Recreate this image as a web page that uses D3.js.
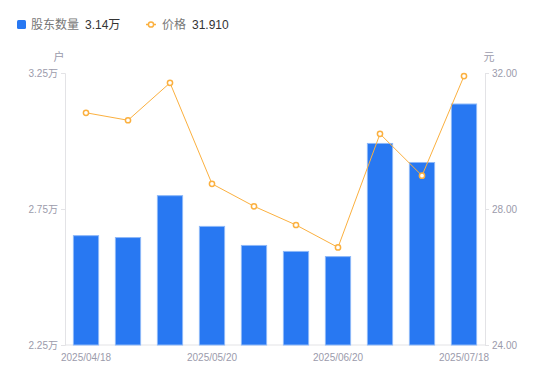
<!DOCTYPE html>
<html>
<head>
<meta charset="utf-8">
<script src="https://cdn.jsdelivr.net/npm/d3@7"></script>
<style>
  html, body { margin: 0; padding: 0; background: #fff; }
  svg { display: block; font-family: "Liberation Sans", Arial, "Noto Sans CJK SC", sans-serif; }
</style>
</head>
<body>
<svg id="chart" width="550" height="381"></svg>
<script>
const dates = ["2025/04/18","2025/04/30","2025/05/10","2025/05/20","2025/05/31","2025/06/10","2025/06/20","2025/06/30","2025/07/10","2025/07/18"];
const holders = [2.652, 2.645, 2.799, 2.686, 2.616, 2.594, 2.575, 2.991, 2.921, 3.136]; // 万户
const prices = [30.83, 30.61, 31.71, 28.74, 28.08, 27.53, 26.87, 30.21, 28.98, 31.91];
const leftTicks = [2.25, 2.75, 3.25];
const rightTicks = [24, 28, 32];
const shownDates = ["2025/04/18","2025/05/20","2025/06/20","2025/07/18"];

const svg = d3.select("#chart");
const m = {left: 65, right: 485, top: 73, bottom: 345};
const blue = "#2878f2", orange = "#fbb03f", axisCol = "#e3e3e6", tickText = "#9b9bab";

const x = d3.scaleBand().domain(dates).range([m.left, m.right]).paddingInner(0.4).paddingOuter(0.2);
const yL = d3.scaleLinear().domain([2.25, 3.25]).range([m.bottom, m.top]);
const yR = d3.scaleLinear().domain([24, 32]).range([m.bottom, m.top]);

// axes
const axL = d3.axisLeft(yL).tickValues(leftTicks).tickSize(4).tickPadding(3).tickFormat(d => d3.format(".2f")(d) + "万");
const axR = d3.axisRight(yR).tickValues(rightTicks).tickSize(4).tickPadding(3).tickFormat(d3.format(".2f"));
const axB = d3.axisBottom(x).tickValues(shownDates).tickSize(0).tickPadding(9);

function style(g) {
  g.select(".domain").attr("stroke", axisCol);
  g.selectAll(".tick line").attr("stroke", axisCol);
  g.selectAll(".tick text").attr("fill", tickText).attr("font-size", 10).attr("font-family", "'Liberation Sans', Arial, 'Noto Sans CJK SC', sans-serif");
}
svg.append("g").attr("transform", `translate(${m.left},0)`).call(axL).call(style);
svg.append("g").attr("transform", `translate(${m.right},0)`).call(axR).call(style);
const gb = svg.append("g").attr("transform", `translate(0,${m.bottom})`).call(axB).call(style);
gb.select(".domain").attr("d", `M${m.left},0H${m.right}`);

// unit labels
svg.append("text").attr("x", 59).attr("y", 61).attr("text-anchor", "middle").attr("font-size", 11).attr("fill", tickText).text("户");
svg.append("text").attr("x", 489).attr("y", 61).attr("text-anchor", "middle").attr("font-size", 11).attr("fill", tickText).text("元");

// bars
svg.append("g").selectAll("rect").data(holders).join("rect")
  .attr("x", (d, i) => x(dates[i]))
  .attr("y", d => yL(d))
  .attr("width", x.bandwidth())
  .attr("height", d => m.bottom - yL(d))
  .attr("fill", blue)
  .attr("stroke", "#8db8f8")
  .attr("stroke-width", 1);

// line
const line = d3.line().x((d, i) => x(dates[i]) + x.bandwidth() / 2).y(d => yR(d));
svg.append("path").datum(prices).attr("d", line).attr("fill", "none").attr("stroke", orange).attr("stroke-width", 1);
svg.append("g").selectAll("circle").data(prices).join("circle")
  .attr("cx", (d, i) => x(dates[i]) + x.bandwidth() / 2)
  .attr("cy", d => yR(d))
  .attr("r", 2.6)
  .attr("fill", "#fff")
  .attr("stroke", orange)
  .attr("stroke-width", 1.5);

// legend
const lg = svg.append("g").attr("font-size", 12);
lg.append("rect").attr("x", 17).attr("y", 20).attr("width", 9).attr("height", 9).attr("rx", 1.5).attr("fill", blue);
lg.append("text").attr("x", 31).attr("y", 29).attr("fill", "#777").text("股东数量");
lg.append("text").attr("x", 85).attr("y", 29).attr("fill", "#333").text(d3.format(".2f")(holders[holders.length - 1]) + "万");
lg.append("line").attr("x1", 146).attr("x2", 156).attr("y1", 24.5).attr("y2", 24.5).attr("stroke", orange).attr("stroke-width", 1.5);
lg.append("circle").attr("cx", 151).attr("cy", 24.5).attr("r", 2.6).attr("fill", "#fff").attr("stroke", orange).attr("stroke-width", 1.5);
lg.append("text").attr("x", 162).attr("y", 29).attr("fill", "#777").text("价格");
lg.append("text").attr("x", 192).attr("y", 29).attr("fill", "#333").text(d3.format(".3f")(prices[prices.length - 1]));
</script>
</body>
</html>
